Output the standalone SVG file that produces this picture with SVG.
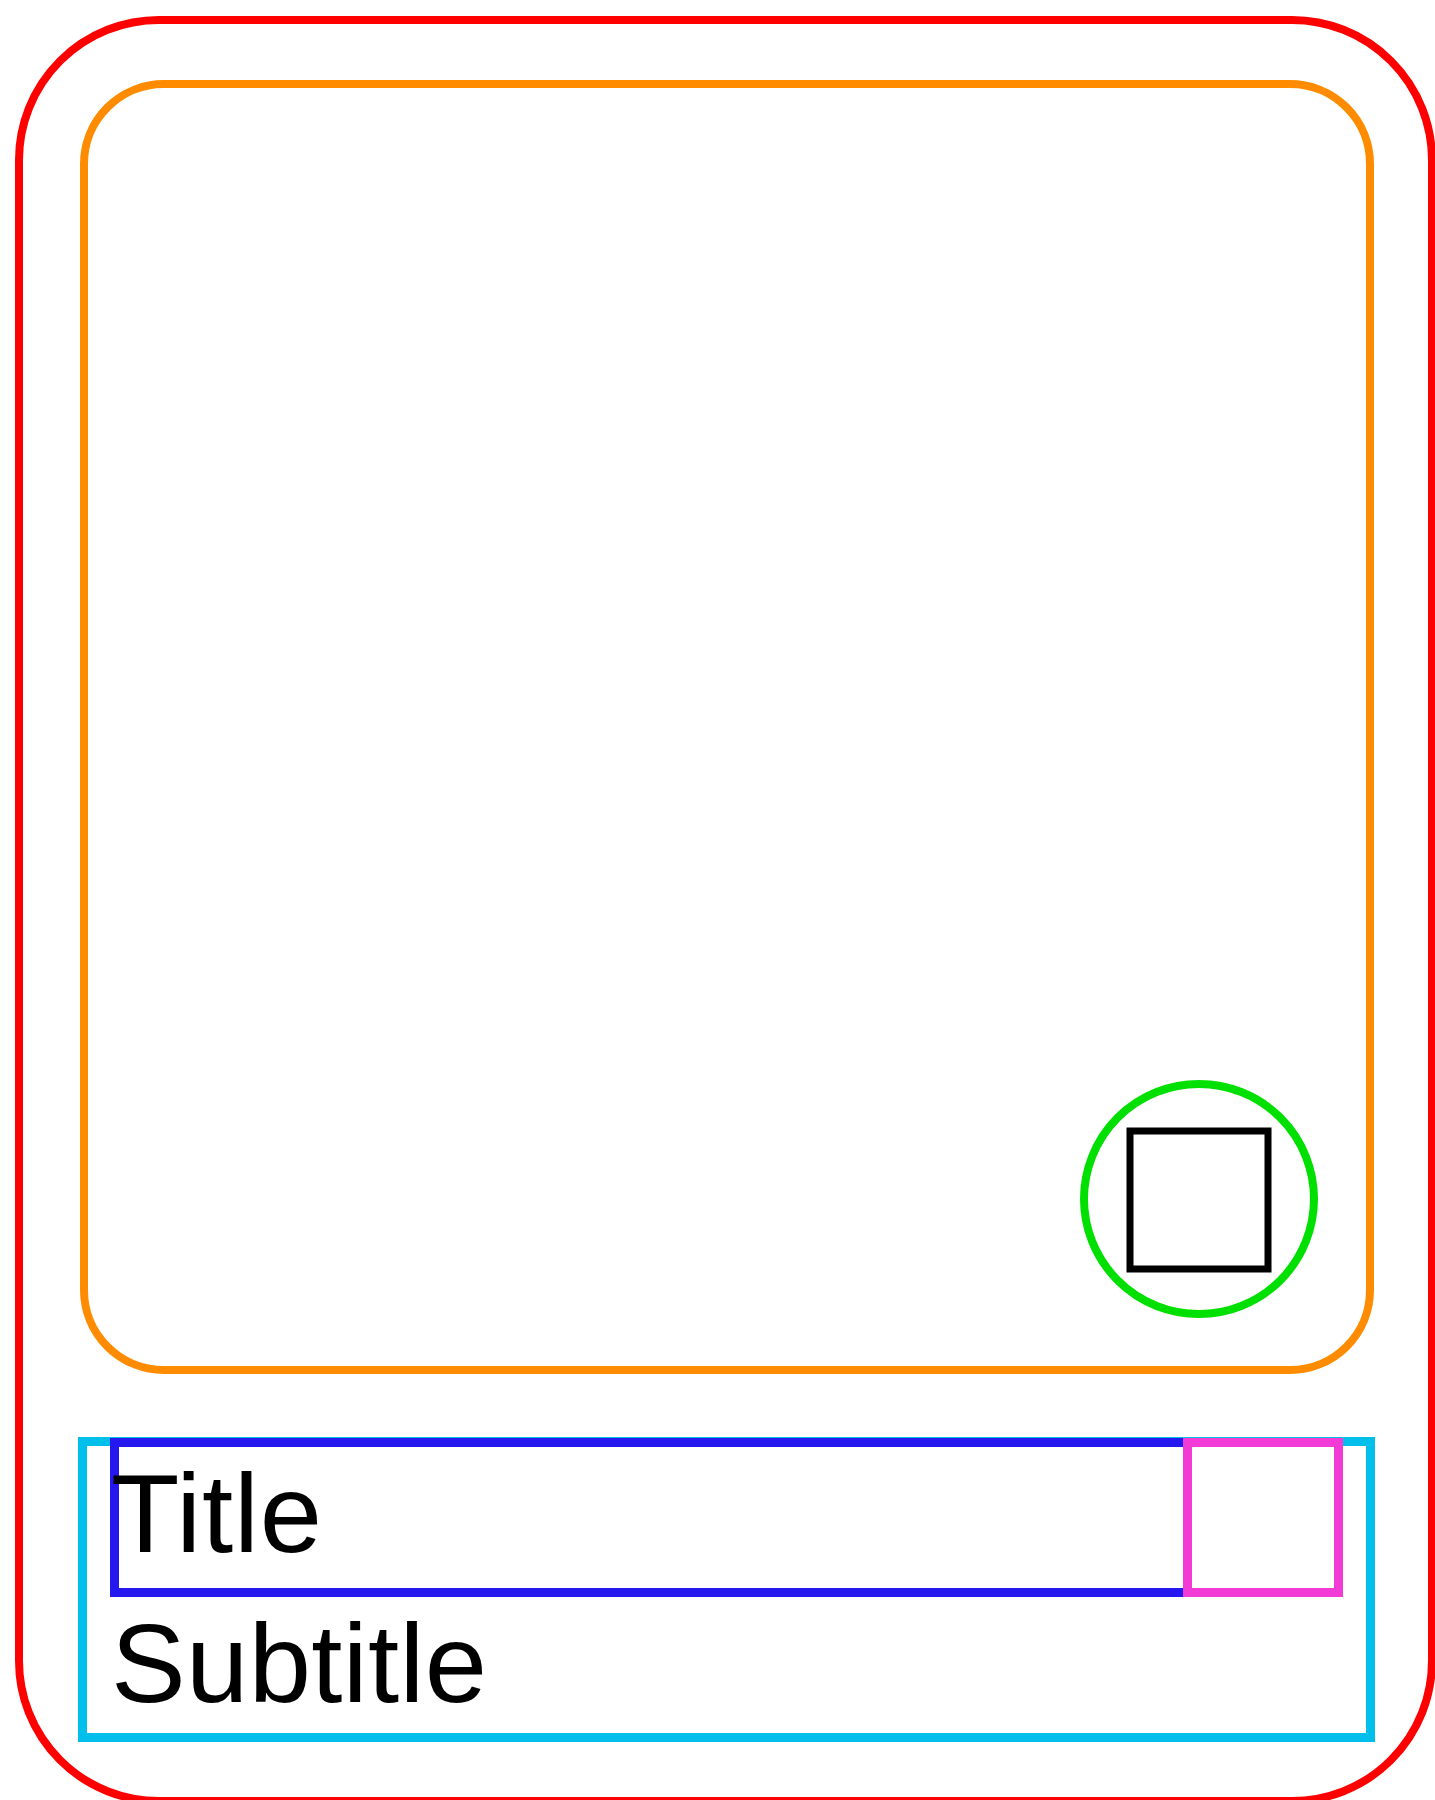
<svg xmlns="http://www.w3.org/2000/svg" width="1435" height="1800" viewBox="0 0 1435 1800">
<style>
  .box { fill: none; }
  .label { font-family: "Liberation Sans", Arial, sans-serif; font-size: 112px; fill: #000000; }
</style>
<rect width="1435" height="1800" fill="#ffffff"/>
<g id="card">
  <rect class="box" x="19" y="20" width="1413" height="1781" rx="140" ry="140" stroke="#ff0000" stroke-width="8"/>
</g>
<g id="media">
  <rect class="box" x="84" y="84" width="1286" height="1286" rx="80" ry="80" stroke="#ff8c00" stroke-width="8"/>
</g>
<g id="badge">
  <circle class="box" cx="1199" cy="1199" r="115" stroke="#00e000" stroke-width="8"/>
  <rect class="box" x="1130" y="1131" width="138" height="138" stroke="#000000" stroke-width="7"/>
</g>
<g id="footer">
  <rect class="box" x="82.5" y="1441.5" width="1288" height="296" stroke="#00bfea" stroke-width="9"/>
</g>
<g id="title-row">
  <rect class="box" x="114.5" y="1442.5" width="1073" height="150" stroke="#2418ee" stroke-width="9"/>
  <text class="label" x="111" y="1552" textLength="211">Title</text>
</g>
<g id="action">
  <rect class="box" x="1187.5" y="1442.5" width="151" height="150" stroke="#f23ad6" stroke-width="9"/>
</g>
<g id="subtitle">
  <text class="label" x="111" y="1702" textLength="376">Subtitle</text>
</g>
<g id="connectors"></g>
</svg>
